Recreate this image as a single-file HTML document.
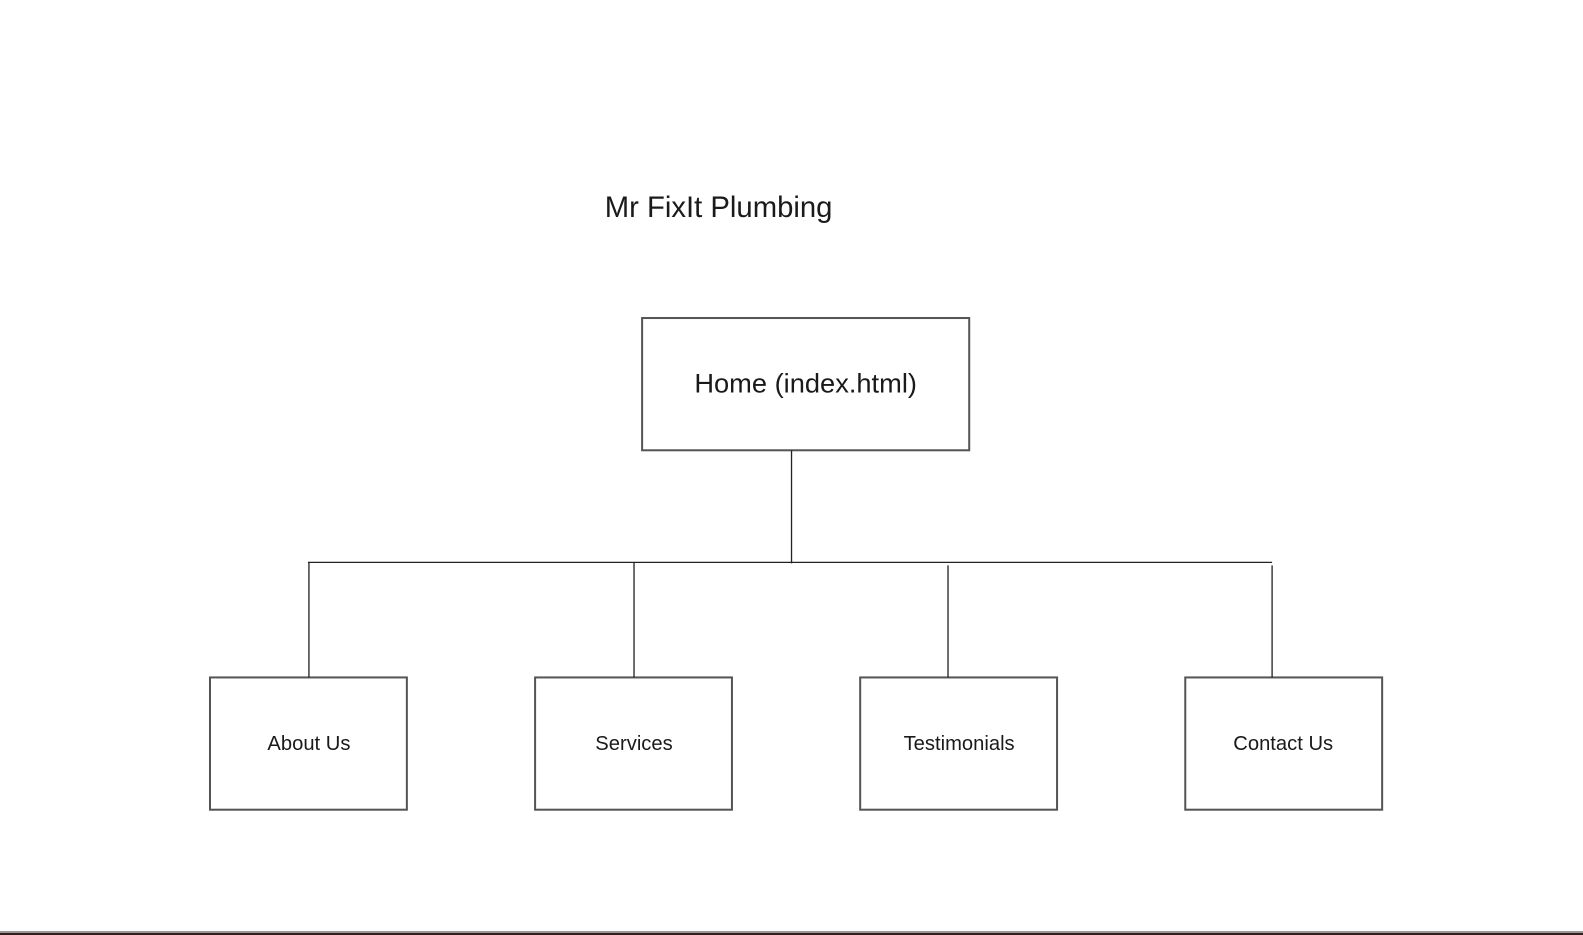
<!DOCTYPE html>
<html><head><style>
html,body{margin:0;padding:0;background:#fff;width:1583px;height:935px;overflow:hidden}
svg text{font-family:"Liberation Sans",Arial,sans-serif;fill:#1a1a1a}
</style></head><body>
<svg width="1583" height="935" viewBox="0 0 1583 935" xmlns="http://www.w3.org/2000/svg">
<rect width="1583" height="935" fill="#fff"/>
<g transform="scale(1.0096)">
<text x="599" y="215" font-size="29" fill="#000">Mr FixIt Plumbing</text>
<g fill="none" stroke="#555" stroke-width="2">
<rect x="636" y="315" width="324" height="131"/>
<rect x="208" y="671" width="195" height="131"/>
<rect x="530" y="671" width="195" height="131"/>
<rect x="852" y="671" width="195" height="131"/>
<rect x="1174" y="671" width="195" height="131"/>
</g>
<g stroke="#222" stroke-width="1.3">
<line x1="784" y1="446" x2="784" y2="558"/>
<line x1="305" y1="557" x2="1260" y2="557"/>
<line x1="306" y1="557" x2="306" y2="671"/>
<line x1="628" y1="557" x2="628" y2="671"/>
<line x1="939" y1="560" x2="939" y2="671"/>
<line x1="1260" y1="560" x2="1260" y2="671"/>
</g>
<text x="798" y="389" font-size="27" text-anchor="middle">Home (index.html)</text>
<text x="306" y="743" font-size="20" text-anchor="middle">About Us</text>
<text x="628" y="743" font-size="20" text-anchor="middle">Services</text>
<text x="950" y="743" font-size="20" text-anchor="middle">Testimonials</text>
<text x="1271" y="743" font-size="20" text-anchor="middle">Contact Us</text>
</g>
<rect x="0" y="931" width="1583" height="2" fill="#999"/>
<rect x="0" y="933" width="1583" height="2" fill="#3a1c1c"/>
</svg>
</body></html>
